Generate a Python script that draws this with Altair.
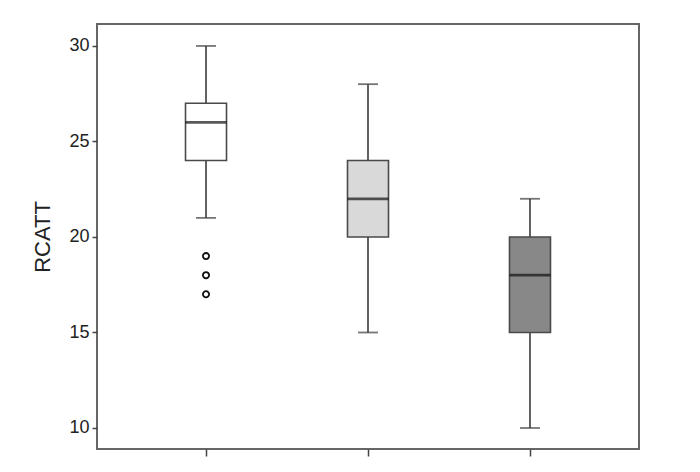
import altair as alt
import pandas as pd

groups = ["A", "B", "C"]
mins = [21, 15, 10]
q1s = [24, 20, 15]
medians = [26, 22, 18]
q3s = [27, 24, 20]
maxs = [30, 28, 22]
fills = ["#ffffff", "#d9d9d9", "#888888"]
outlier_group = ["A", "A", "A"]
outlier_vals = [17, 18, 19]

df = pd.DataFrame({"g": groups, "mn": mins, "q1": q1s, "med": medians,
                   "q3": q3s, "mx": maxs, "fill": fills})
odf = pd.DataFrame({"g": outlier_group, "v": outlier_vals})

xenc = alt.X("g:N", scale=alt.Scale(type="point", padding=0.673, domain=groups),
             axis=alt.Axis(title=None, labels=False, domain=False, ticks=True,
                           tickSize=7, tickColor="#444", tickWidth=1.5, grid=False))
yscale = alt.Scale(domain=[8.9, 31.15], nice=False, zero=False)
yaxis = alt.Axis(title="RCATT", values=[10, 15, 20, 25, 30], grid=False, domain=False,
                 tickSize=5, tickColor="#444", tickWidth=1.5, labelFontSize=18,
                 labelColor="#222", labelPadding=3, titleFontSize=22,
                 titleFontWeight="normal", titleColor="#222", titlePadding=14,
                 labelFont="Liberation Sans", titleFont="Liberation Sans")

base = alt.Chart(df)
whisk = base.mark_rule(color="#3a3a3a", strokeWidth=1.6).encode(
    x=xenc, y=alt.Y("mn:Q", scale=yscale, axis=yaxis), y2="mx:Q")
caps_lo = base.mark_tick(color="#3a3a3a", size=20, thickness=1.8).encode(
    x=xenc, y=alt.Y("mn:Q", scale=yscale))
caps_hi = base.mark_tick(color="#3a3a3a", size=20, thickness=1.8).encode(
    x=xenc, y=alt.Y("mx:Q", scale=yscale))
box = base.mark_bar(size=41, stroke="#4a4a4a", strokeWidth=1.6).encode(
    x=xenc, y=alt.Y("q1:Q", scale=yscale), y2="q3:Q",
    fill=alt.Fill("fill:N", scale=None))
med = base.mark_tick(color="#111", size=41, thickness=2.8).encode(
    x=xenc, y=alt.Y("med:Q", scale=yscale))
outl = alt.Chart(odf).mark_point(shape="circle", filled=False, color="#111",
                                 strokeWidth=1.8, size=38, opacity=1).encode(
    x=xenc, y=alt.Y("v:Q", scale=yscale))

chart = alt.layer(whisk, caps_lo, caps_hi, box, med, outl).properties(
    width=542, height=425,
    background="white",
    autosize=alt.AutoSizeParams(type="none"),
    padding={"left": 89, "top": 16, "right": 10, "bottom": 10},
).configure_view(stroke="#666666", strokeWidth=2)

chart.save("out.html", embed_options={"renderer": "svg", "actions": False})
